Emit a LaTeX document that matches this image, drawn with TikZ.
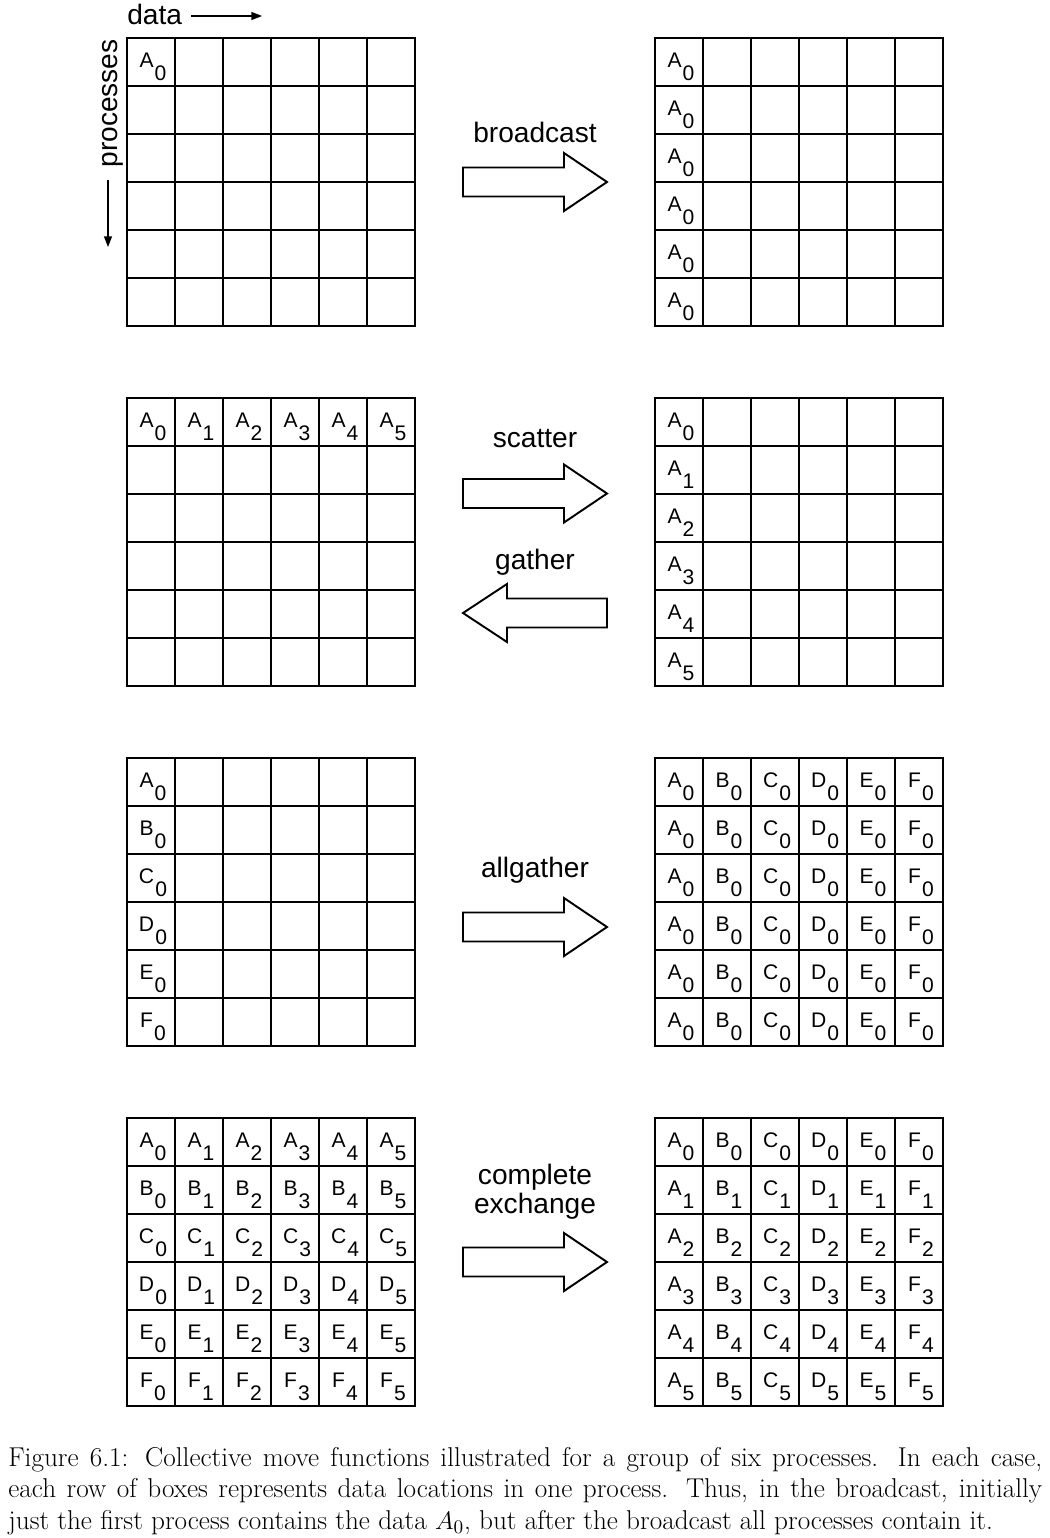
\documentclass[tikz,border=0pt]{standalone}
\usepackage{fontspec}
\setsansfont{Liberation Sans}
\usetikzlibrary{arrows.meta, calc, positioning}

\newcommand{\datum}[2]{#1\kern0.6pt\raisebox{-7.4pt}{#2}}

\tikzset{
  gridline/.style={line width=1.1pt, line cap=rect},
  celltext/.style={font=\sffamily\fontsize{12}{14}\selectfont, inner sep=0pt},
  optext/.style={font=\sffamily\fontsize{16}{16.5}\selectfont, align=center, inner sep=0pt, anchor=base},
  blockarrow/.style={line width=1.1pt, line join=miter, fill=white},
  axisarrow/.style={line width=0.8pt, -{Triangle[length=6pt, width=4.5pt]}},
}

\begin{document}
\begin{tikzpicture}[x=0.02cm, y=-0.02cm]
  \useasboundingbox (0,0) rectangle (1050,1538);

  % Grids of six processes by six data locations
  \foreach \gx/\gy in {127/38, 655/38, 127/398, 655/398, 127/758, 655/758, 127/1118, 655/1118} {
    \foreach \k in {0,...,6} {
      \draw[gridline] (\gx+48*\k, \gy) -- (\gx+48*\k, \gy+288);
      \draw[gridline] (\gx, \gy+48*\k) -- (\gx+288, \gy+48*\k);
    }
  }

  % Axis labels
  \node[optext, anchor=base west] (data) at (127,25) {data};
  \coordinate (data-end) at (262,16);
  \draw[axisarrow] ([xshift=5pt]data.east |- data-end) -- (data-end);
  \node[optext, rotate=90, anchor=base east] (procs) at (117,39) {processes};
  \coordinate (procs-end) at (108,247);
  \draw[axisarrow] ([yshift=-7pt]procs.west -| procs-end) -- (procs-end);

  % Broadcast
  \node[celltext] (bl-0) at (153,67) {\datum{A}{0}};
  \foreach \r in {0,...,5}
    \node[celltext] (br-\r) at (681,67+48*\r) {\datum{A}{0}};
  \node[optext] (bcast) at (535,142) {broadcast};
  \draw[blockarrow] (463,167.5) -- (564,167.5) -- (564,153) -- (607,182) -- (564,211) -- (564,196.5) -- (463,196.5) -- cycle;

  % Scatter and gather
  \foreach \c in {0,...,5}
    \node[celltext] (sl-\c) at (153+48*\c,427) {\datum{A}{\c}};
  \foreach \r in {0,...,5}
    \node[celltext] (sr-\r) at (681,427+48*\r) {\datum{A}{\r}};
  \node[optext] (scatter) at (535,447) {scatter};
  \draw[blockarrow] (463,479) -- (564,479) -- (564,464.5) -- (607,493.5) -- (564,522.5) -- (564,508) -- (463,508) -- cycle;
  \node[optext] (gather) at (535,569) {gather};
  \draw[blockarrow] (607,598.5) -- (507,598.5) -- (507,584) -- (463,613) -- (507,642) -- (507,627.5) -- (607,627.5) -- cycle;

  % Allgather
  \foreach \L [count=\r from 0] in {A,B,C,D,E,F}
    \node[celltext] (al-\r) at (153,787+48*\r) {\datum{\L}{0}};
  \foreach \r in {0,...,5}
    \foreach \L [count=\c from 0] in {A,B,C,D,E,F}
      \node[celltext] (ar-\r-\c) at (681+48*\c,787+48*\r) {\datum{\L}{0}};
  \node[optext] (allgather) at (535,877) {allgather};
  \draw[blockarrow] (463,912.5) -- (564,912.5) -- (564,898) -- (607,927) -- (564,956) -- (564,941.5) -- (463,941.5) -- cycle;

  % Complete exchange
  \foreach \L [count=\r from 0] in {A,B,C,D,E,F}
    \foreach \c in {0,...,5} {
      \node[celltext] (xl-\r-\c) at (153+48*\c,1147+48*\r) {\datum{\L}{\c}};
      \node[celltext] (xr-\c-\r) at (681+48*\r,1147+48*\c) {\datum{\L}{\c}};
    }
  \node[optext] (exchange) at (535,1213) {complete\\exchange};
  \draw[blockarrow] (463,1247.5) -- (564,1247.5) -- (564,1233) -- (607,1262) -- (564,1291) -- (564,1276.5) -- (463,1276.5) -- cycle;

  % Caption
  \node[anchor=north west, inner sep=0pt, text width=20.68cm, align=justify, font=\fontsize{15.5}{17.9}\selectfont] (caption) at (8,1447)
    {\parfillskip=0pt Figure 6.1: Collective move functions illustrated for a group of six processes. In each case,\linebreak
     each row of boxes represents data locations in one process. Thus, in the broadcast, initially\linebreak
     just the first process contains the data $A_0$, but after the broadcast all processes contain it.};
\end{tikzpicture}
\end{document}
